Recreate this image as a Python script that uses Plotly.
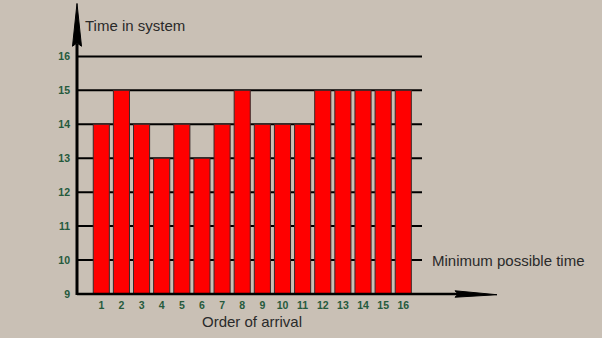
import plotly.graph_objects as go

arrivals = list(range(1, 17))
times = [14, 15, 14, 13, 14, 13, 14, 15, 14, 14, 14, 15, 15, 15, 15, 15]
y_ticks = [9, 10, 11, 12, 13, 14, 15, 16]
grid_levels = [10, 11, 12, 13, 14, 15, 16]

BG = "#C9C0B5"
TICKC = "#255A3C"
TXT = "#2A2A2A"
FONT = "Liberation Sans, Arial, sans-serif"

fig = go.Figure()
fig.add_trace(go.Bar(
    x=arrivals, y=times, width=0.8,
    marker=dict(color="#FF0000", line=dict(color="#3A2A2A", width=1)),
    hoverinfo="x+y",
))

shapes = []
for g in grid_levels:
    shapes.append(dict(type="line", xref="paper", yref="y", x0=0, x1=1, y0=g, y1=g,
                       line=dict(color="#000000", width=2), layer="below"))
shapes += [
    # y axis line
    dict(type="line", xref="paper", yref="paper", x0=0, x1=0, y0=-0.004, y1=1.04,
         line=dict(color="#000000", width=3), layer="above"),
    dict(type="path", xref="paper", yref="paper",
         path="M -0.0130,1.028 L 0,1.2055 L 0.0130,1.028 L 0,1.042 Z",
         fillcolor="#000000", line=dict(color="#000000", width=1), layer="above"),
    # x axis line
    dict(type="line", xref="paper", yref="paper", x0=0, x1=1.12, y0=0, y1=0,
         line=dict(color="#000000", width=2.5), layer="above"),
    dict(type="path", xref="paper", yref="paper",
         path="M 1.0957,-0.0133 L 1.2174,-0.003 L 1.0957,0.0133 L 1.105,0 Z",
         fillcolor="#000000", line=dict(color="#000000", width=1), layer="above"),
]

fig.update_layout(
    width=602, height=338,
    margin=dict(l=77, r=180, t=52.6, b=44),
    paper_bgcolor=BG, plot_bgcolor=BG,
    showlegend=False,
    font=dict(family=FONT),
    xaxis=dict(
        range=[-0.207, 16.93], tickmode="array", tickvals=arrivals,
        ticktext=["<b>%d</b>" % a for a in arrivals],
        showgrid=False, zeroline=False, showline=False, ticks="",
        ticklabelstandoff=3,
        tickfont=dict(size=10.5, color=TICKC, family=FONT),
    ),
    yaxis=dict(
        range=[9, 16.1], tickmode="array", tickvals=y_ticks,
        ticktext=["<b>%d</b>" % t for t in y_ticks],
        showgrid=False, zeroline=False, showline=False, ticks="",
        ticklabelstandoff=6,
        tickfont=dict(size=10.5, color=TICKC, family=FONT),
    ),
    shapes=shapes,
    annotations=[
        dict(text="Time in system", xref="paper", yref="paper", x=0.0174, y=1.1143,
             xanchor="left", yanchor="middle", showarrow=False,
             font=dict(size=15, color=TXT)),
        dict(text="Order of arrival", xref="paper", yref="paper", x=0.507, y=-0.116,
             xanchor="center", yanchor="middle", showarrow=False,
             font=dict(size=15, color=TXT)),
        dict(text="Minimum possible time", xref="paper", yref="y", x=1.023, y=10,
             xanchor="left", yanchor="middle", showarrow=False,
             font=dict(size=15, color=TXT)),
    ],
)

fig.write_html("out.html")
